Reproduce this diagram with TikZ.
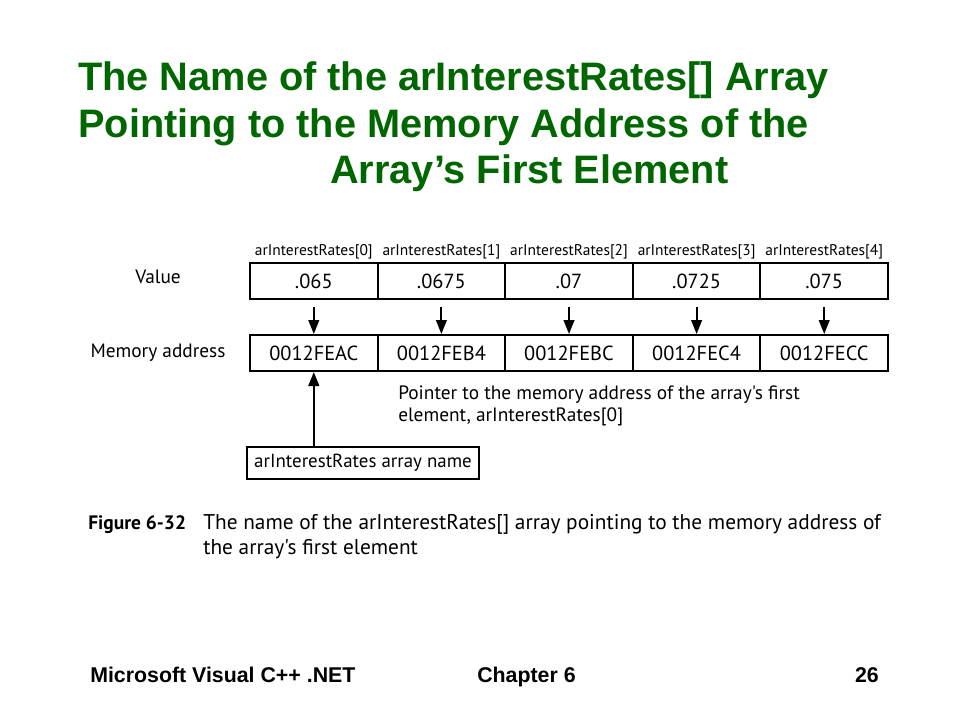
\documentclass[tikz,border=0pt]{standalone}
\usepackage{fontspec}
\setmainfont{Liberation Sans}
\newfontfamily\figfont{PT Sans}
\usetikzlibrary{arrows.meta}
\definecolor{titlegreen}{RGB}{0,102,0}
\begin{document}
\begin{tikzpicture}[x=0.75pt,y=-0.75pt,
  cell/.style={draw,line width=1.5pt,minimum width=127.6*0.75pt,minimum height=36*0.75pt,inner sep=0pt,font=\figfont\fontsize{15.3}{18}\selectfont,anchor=north west},
  idx/.style={font=\figfont\fontsize{11.6}{14}\selectfont,anchor=base},
  lbl/.style={font=\figfont\fontsize{14.5}{17}\selectfont},
  arr/.style={-{Triangle[length=10.5pt,width=8pt]},line width=1.5pt},
  ttl/.style={font=\bfseries\fontsize{29.8}{34}\selectfont,text=titlegreen,anchor=base west,inner sep=0pt},
  foot/.style={font=\bfseries\fontsize{16}{19}\selectfont,anchor=base west,inner sep=0pt},
  captext/.style={font=\figfont\fontsize{16}{19}\selectfont,anchor=base west,inner sep=0pt}]
\useasboundingbox (0,0) rectangle (960,720);
\fill[white] (0,0) rectangle (960,720);
% title
\node[ttl] (t1) at (78,91) {The Name of the arInterestRates[] Array};
\node[ttl] (t2) at (78,138) {Pointing to the Memory Address of the};
\node[ttl] (t3) at (330,184) {Array’s First Element};
% value row
\foreach \i/\v/\a/\n in {0/.065/0012FEAC/0,1/.0675/0012FEB4/1,2/.07/0012FEBC/2,3/.0725/0012FEC4/3,4/.075/0012FECC/4}{
  \node[cell] (v\i) at (249+127.6*\i,262) {\v};
  \node[cell] (m\i) at (249+127.6*\i,334) {\a};
  \node[idx] (x\i) at ([yshift=0.75*6pt]v\i.north) {arInterestRates[\n]};
  \draw[arr] ([yshift=-0.75*7pt]v\i.south) -- (m\i.north);
}
\node[lbl,anchor=base] (val) at (158,284) {Value};
\node[lbl,anchor=base] (mem) at (158,357) {Memory address};
% name box
\node[draw,line width=1.5pt,font=\figfont\fontsize{14.2}{17}\selectfont,minimum width=232*0.75pt,minimum height=32*0.75pt,inner sep=0pt] (nm) at (363,463) {arInterestRates array name};
\draw[arr] (nm.north -| m0.south) -- (m0.south);
\node[lbl,anchor=base west,inner sep=0pt] (ptr) at (398,399) {Pointer to the memory address of the array's first};
\node[lbl,anchor=base west,inner sep=0pt] (ptr2) at (398,421) {element, arInterestRates[0]};
% caption
\node[captext,font=\figfont\bfseries\fontsize{14.6}{17}\selectfont] (fig) at (88,529) {Figure 6-32};
\node[captext] (c1) at (203,529) {The name of the arInterestRates[] array pointing to the memory address of};
\node[captext] (c2) at (203,554) {the array's first element};
% footer
\node[foot] (f1) at (90,682) {Microsoft Visual C++ .NET};
\node[foot] (f2) at (477,682) {Chapter 6};
\node[foot,anchor=base east] (f3) at (879,682) {26};
\end{tikzpicture}
\end{document}
